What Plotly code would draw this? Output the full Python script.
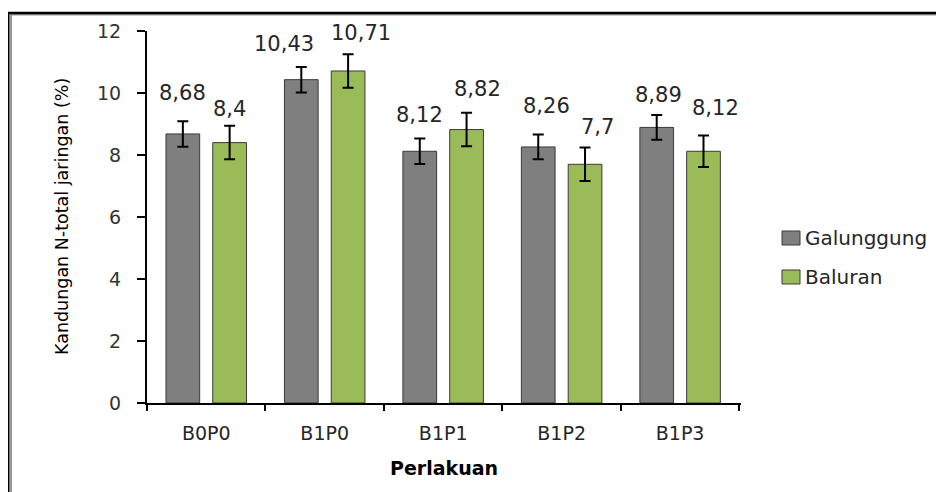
import plotly.graph_objects as go

categories = ["B0P0", "B1P0", "B1P1", "B1P2", "B1P3"]
galunggung = [8.68, 10.43, 8.12, 8.26, 8.89]
baluran = [8.40, 10.71, 8.82, 7.70, 8.12]
galunggung_err = [0.41, 0.41, 0.41, 0.40, 0.40]
baluran_err = [0.54, 0.54, 0.54, 0.54, 0.51]
series_names = ["Galunggung", "Baluran"]
y_ticks = [0, 2, 4, 6, 8, 10, 12]

# label nudges in pixels (dx, dy above bar top) - layout only
gal_label_shift = [(0, 41), (-17, 36), (0, 36), (8, 41), (2, 32)]
bal_label_shift = [(0, 34), (13, 38), (11, 41), (12, 37), (12, 43)]

GRAY = "#7f7f7f"
GREEN = "#9bbb59"
EDGE = "#3a3a3a"
FONT = "DejaVu Sans"
TXT = "#262626"

OFF = 8  # browser body margin
W, H = 944 - OFF, 492 - OFF
# plot area in page pixels: x 147..741, y 31..403
L, T = 147 - OFF, 31 - OFF
R, B = W - (741 - OFF), H - (403 - OFF)
PW, PH = W - L - R, H - T - B
BARGAP = 0.21


def px_x(px):
    return (px - OFF - L) / PW


def px_y(py):
    return (H - B - (py - OFF)) / PH


fig = go.Figure()
for name, vals, errs, col in [
    (series_names[0], galunggung, galunggung_err, GRAY),
    (series_names[1], baluran, baluran_err, GREEN),
]:
    fig.add_trace(go.Bar(
        name=name, x=categories, y=vals,
        marker=dict(color=col, line=dict(color=EDGE, width=1)),
        error_y=dict(type="data", array=errs, visible=True,
                     color="black", thickness=2, width=5.5),
        showlegend=False,
    ))

annotations = []
slot = (1 - BARGAP) / 4
for vals, shifts, sign in [(galunggung, gal_label_shift, -1), (baluran, bal_label_shift, 1)]:
    for i, (v, (dx, dy)) in enumerate(zip(vals, shifts)):
        annotations.append(dict(
            x=i + sign * slot, y=v, xref="x", yref="y",
            text=f"{v:g}".replace(".", ","), showarrow=False,
            xshift=dx, yshift=dy, yanchor="middle", xanchor="center",
            font=dict(family=FONT, size=21, color=TXT),
        ))

# axis titles
annotations.append(dict(
    x=px_x(62), y=0.5, xref="paper", yref="paper", textangle=-90,
    text="Kandungan N-total jaringan (%)", showarrow=False,
    xanchor="center", yanchor="middle",
    font=dict(family=FONT, size=17.5, color="black"),
))
annotations.append(dict(
    x=0.5, y=px_y(468), xref="paper", yref="paper",
    text="<b>Perlakuan</b>", showarrow=False,
    xanchor="center", yanchor="middle",
    font=dict(family=FONT, size=19, color="black"),
))

shapes = []
# manual legend
for k, (name, col) in enumerate(zip(series_names, [GRAY, GREEN])):
    cy = 238 + k * 39
    shapes.append(dict(type="rect", xref="paper", yref="paper",
                       x0=px_x(782), x1=px_x(800), y0=px_y(cy - 7), y1=px_y(cy + 7),
                       fillcolor=col, line=dict(color=EDGE, width=1)))
    annotations.append(dict(
        x=px_x(803), y=px_y(cy), xref="paper", yref="paper",
        text=name, showarrow=False, xanchor="left", yanchor="middle",
        font=dict(family=FONT, size=20, color=TXT),
    ))

# outer frame (top and left visible)
shapes.append(dict(type="line", xref="paper", yref="paper",
                   x0=px_x(10.5), x1=px_x(10.5), y0=px_y(15), y1=px_y(500),
                   line=dict(color="#9a9a9a", width=3)))
shapes.append(dict(type="line", xref="paper", yref="paper",
                   x0=px_x(9), x1=px_x(960), y0=px_y(14.8), y1=px_y(14.8),
                   line=dict(color="#9a9a9a", width=1.5)))
shapes.append(dict(type="line", xref="paper", yref="paper",
                   x0=px_x(8), x1=px_x(8), y0=px_y(12), y1=px_y(500),
                   line=dict(color="black", width=2.5)))
shapes.append(dict(type="line", xref="paper", yref="paper",
                   x0=px_x(6.8), x1=px_x(960), y0=px_y(13), y1=px_y(13),
                   line=dict(color="black", width=2.5)))

fig.update_layout(
    width=W, height=H,
    margin=dict(l=L, r=R, t=T, b=B),
    paper_bgcolor="white", plot_bgcolor="white",
    barmode="group", bargap=BARGAP, bargroupgap=0.28,
    annotations=annotations, shapes=shapes,
    showlegend=False,
    font=dict(family=FONT, color=TXT),
)
fig.update_xaxes(
    type="category", showline=True, linecolor="black", linewidth=2,
    ticks="outside", ticklen=6, tickcolor="black", tickwidth=2,
    tickson="boundaries", showgrid=False,
    tickfont=dict(family=FONT, size=19, color=TXT),
    ticklabelstandoff=12,
)
fig.update_yaxes(
    range=[0, 12], tickvals=y_ticks, showline=True, linecolor="black", linewidth=2,
    ticks="outside", ticklen=8, tickcolor="black", tickwidth=2,
    showgrid=False, zeroline=False,
    tickfont=dict(family=FONT, size=19, color="#333333"),
    ticklabelstandoff=12,
)

fig.write_html("out.html")
